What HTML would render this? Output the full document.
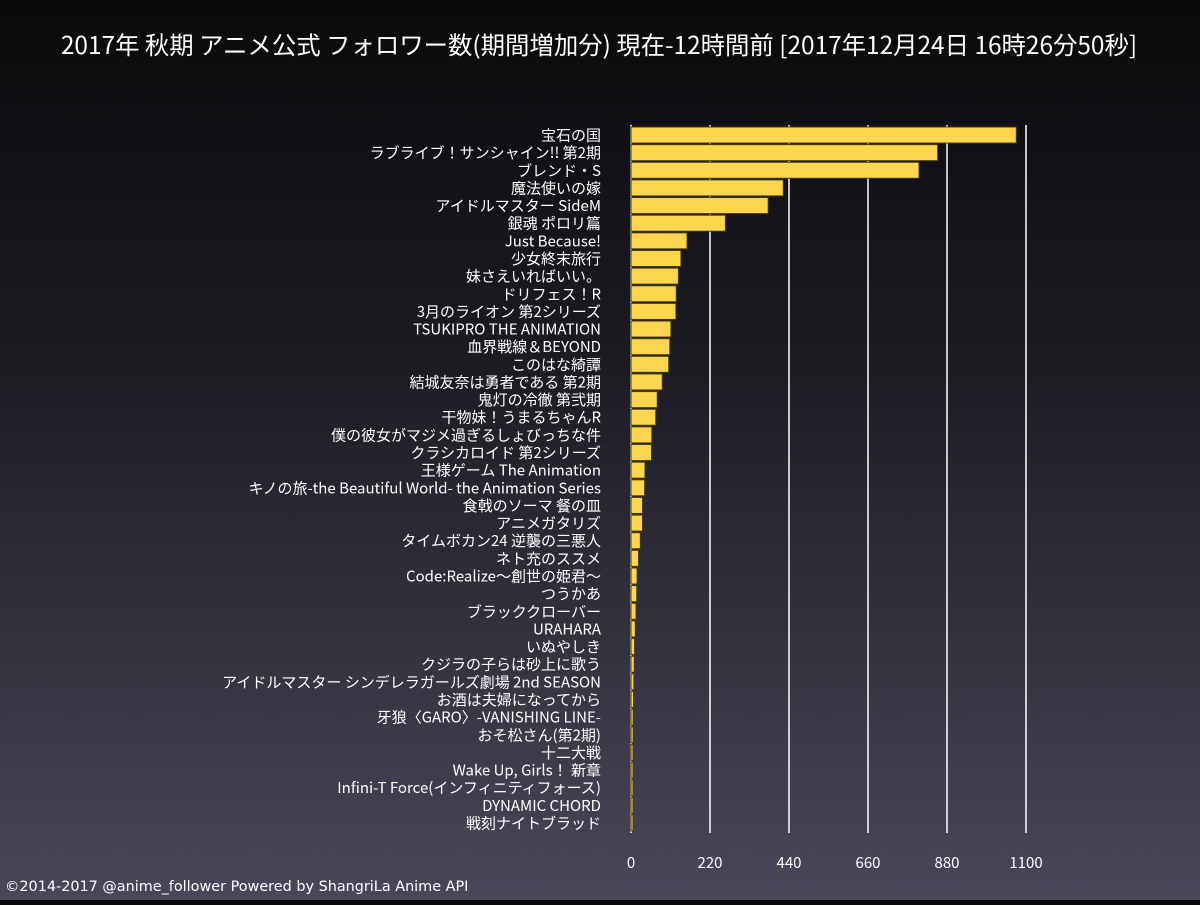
<!DOCTYPE html>
<html><head><meta charset="utf-8">
<style>
html,body{margin:0;padding:0;}
body{width:1200px;height:900px;overflow:hidden;background:linear-gradient(#0a0a0c 0%,#1c1b22 40%,#4b4659 100%);font-family:"Noto Sans CJK JP",sans-serif;}
svg text{font-family:"Noto Sans CJK JP",sans-serif;}
</style></head>
<body>
<svg id="chart" width="1200" height="900">
<text x="599" y="54" fill="#fff" font-size="24.4" text-anchor="middle">2017年 秋期 アニメ公式 フォロワー数(期間増加分) 現在-12時間前 [2017年12月24日 16時26分50秒]</text>
<g id="grid"></g><g id="bars"></g><g id="labels"></g><g id="ticks"></g>
<text x="5" y="891" fill="#fff" font-size="14.4" style="font-family:'DejaVu Sans',sans-serif">©2014-2017 @anime_follower Powered by ShangriLa Anime API</text>
</svg>
<script>
const categories=["宝石の国","ラブライブ！サンシャイン!! 第2期","ブレンド・S","魔法使いの嫁","アイドルマスター SideM","銀魂 ポロリ篇","Just Because!","少女終末旅行","妹さえいればいい。","ドリフェス！R","3月のライオン 第2シリーズ","TSUKIPRO THE ANIMATION","血界戦線＆BEYOND","このはな綺譚","結城友奈は勇者である 第2期","鬼灯の冷徹 第弐期","干物妹！うまるちゃんR","僕の彼女がマジメ過ぎるしょびっちな件","クラシカロイド 第2シリーズ","王様ゲーム The Animation","キノの旅-the Beautiful World- the Animation Series","食戟のソーマ 餐の皿","アニメガタリズ","タイムボカン24 逆襲の三悪人","ネト充のススメ","Code:Realize〜創世の姫君〜","つうかあ","ブラッククローバー","URAHARA","いぬやしき","クジラの子らは砂上に歌う","アイドルマスター シンデレラガールズ劇場 2nd SEASON","お酒は夫婦になってから","牙狼〈GARO〉-VANISHING LINE-","おそ松さん(第2期)","十二大戦","Wake Up, Girls！ 新章","Infini-T Force(インフィニティフォース)","DYNAMIC CHORD","戦刻ナイトブラッド"];
const values=[1073,854,802,424,382,263,156,139,132,126,125,111,108,105,87,73,69,58,57,39,38,32,32,26,21,17,16,14,12,10,9,8,7,6,6,5,5,4,4,3];
const ticks=[0,220,440,660,880,1100];
const NS="http://www.w3.org/2000/svg";
const x0=631,xScale=v=>x0+v*(395/1100);
const yTop=127,pitch=17.64,barH=16;
const yPos=i=>yTop+i*pitch;
const grid=document.getElementById('grid'),bars=document.getElementById('bars'),labels=document.getElementById('labels'),tk=document.getElementById('ticks');
ticks.forEach(t=>{
 const l=document.createElementNS(NS,'line');
 l.setAttribute('x1',xScale(t));l.setAttribute('x2',xScale(t));l.setAttribute('y1',125);l.setAttribute('y2',833);
 l.setAttribute('stroke','#fff');l.setAttribute('stroke-width','1.5');
 
 
 grid.appendChild(l);
 const tx=document.createElementNS(NS,'text');
 tx.setAttribute('x',xScale(t));tx.setAttribute('y',868);tx.setAttribute('fill','#fff');tx.setAttribute('font-size','15');tx.setAttribute('text-anchor','middle');
 tx.textContent=t;
 
 
 tk.appendChild(tx);
});
categories.forEach((c,i)=>{
 const r=document.createElementNS(NS,'rect');
 r.setAttribute('x',x0);r.setAttribute('y',yPos(i));r.setAttribute('width',Math.max(2,xScale(values[i])-x0));r.setAttribute('height',barH);
 r.setAttribute('fill','#fdd54f');r.setAttribute('stroke','#4a3d10');r.setAttribute('stroke-width','1');
 
 
 bars.appendChild(r);
 const t=document.createElementNS(NS,'text');
 t.setAttribute('x',601);t.setAttribute('y',yPos(i)+13.5);t.setAttribute('fill','#fff');t.setAttribute('font-size','15');t.setAttribute('text-anchor','end');
 t.textContent=c;
 
 
 labels.appendChild(t);
});
</script>
</body></html>
